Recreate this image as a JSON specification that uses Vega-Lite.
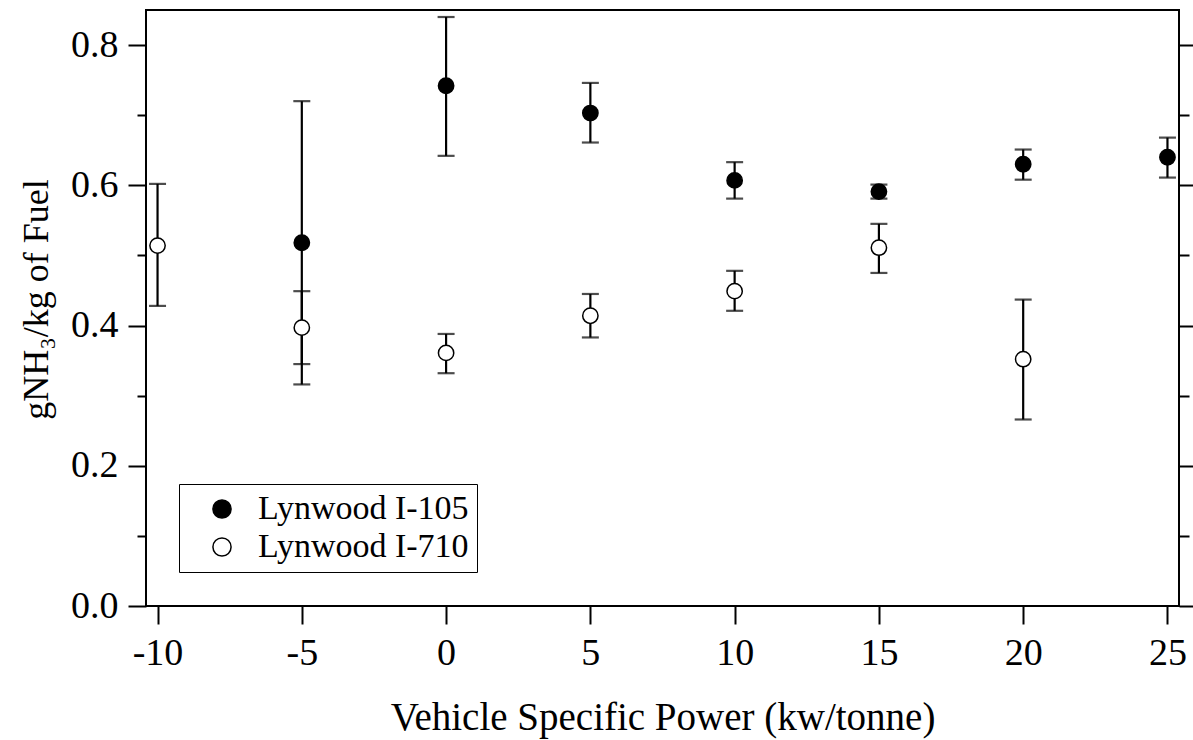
{
  "$schema": "https://vega.github.io/schema/vega-lite/v6.json",
  "width": 1033,
  "height": 596,
  "autosize": {"type": "none"},
  "padding": {"left": 146, "top": 10, "right": 14, "bottom": 134},
  "background": "white",
  "config": {
    "font": "Liberation Serif",
    "view": {"stroke": "black", "strokeWidth": 2},
    "axis": {"grid": false, "domain": false, "tickColor": "black", "tickWidth": 2, "labelColor": "black", "titleColor": "black", "labelFont": "Liberation Serif", "titleFont": "Liberation Serif", "titleFontWeight": "normal"}
  },
  "data": {
    "values": [
      {"vsp": -5, "series": "Lynwood I-105", "value": 0.518, "lo": 0.316, "hi": 0.720},
      {"vsp": 0, "series": "Lynwood I-105", "value": 0.742, "lo": 0.642, "hi": 0.840},
      {"vsp": 5, "series": "Lynwood I-105", "value": 0.703, "lo": 0.661, "hi": 0.746},
      {"vsp": 10, "series": "Lynwood I-105", "value": 0.607, "lo": 0.581, "hi": 0.633},
      {"vsp": 15, "series": "Lynwood I-105", "value": 0.591, "lo": 0.581, "hi": 0.601},
      {"vsp": 20, "series": "Lynwood I-105", "value": 0.630, "lo": 0.608, "hi": 0.651},
      {"vsp": 25, "series": "Lynwood I-105", "value": 0.640, "lo": 0.611, "hi": 0.668},
      {"vsp": -10, "series": "Lynwood I-710", "value": 0.514, "lo": 0.428, "hi": 0.602},
      {"vsp": -5, "series": "Lynwood I-710", "value": 0.397, "lo": 0.345, "hi": 0.449},
      {"vsp": 0, "series": "Lynwood I-710", "value": 0.361, "lo": 0.332, "hi": 0.388},
      {"vsp": 5, "series": "Lynwood I-710", "value": 0.414, "lo": 0.383, "hi": 0.445},
      {"vsp": 10, "series": "Lynwood I-710", "value": 0.449, "lo": 0.421, "hi": 0.478},
      {"vsp": 15, "series": "Lynwood I-710", "value": 0.511, "lo": 0.475, "hi": 0.545},
      {"vsp": 20, "series": "Lynwood I-710", "value": 0.352, "lo": 0.266, "hi": 0.437}
    ]
  },
  "encoding": {
    "x": {
      "field": "vsp", "type": "quantitative",
      "scale": {"domain": [-10.4, 25.4], "nice": false, "zero": false},
      "axis": {
        "values": [-10, -5, 0, 5, 10, 15, 20, 25],
        "labelExpr": "datum.value < 0 ? '-' + abs(datum.value) : '' + datum.value",
        "tickSize": 18, "labelFontSize": 38, "labelPadding": 10,
        "title": "Vehicle Specific Power (kw/tonne)", "titleFontSize": 39,
        "titleY": 123, "titleBaseline": "alphabetic"
      }
    }
  },
  "resolve": {"axis": {"y": "independent"}},
  "layer": [
    {
      "mark": {"type": "rule", "color": "black", "strokeWidth": 2.2},
      "encoding": {
        "y": {
          "field": "lo", "type": "quantitative",
          "scale": {"domain": [0, 0.85], "nice": false, "zero": false},
          "axis": {
            "orient": "left", "values": [0, 0.2, 0.4, 0.6, 0.8], "format": ".1f",
            "tickSize": 18, "labelFontSize": 38, "labelPadding": 10,
            "title": "gNH₃/kg of Fuel", "titleFontSize": 36,
            "titleX": -99, "titleY": 289, "titleAngle": -90, "titleAlign": "center", "titleBaseline": "alphabetic"
          }
        },
        "y2": {"field": "hi"}
      }
    },
    {
      "mark": {"type": "tick", "color": "black", "orient": "horizontal", "size": 17, "thickness": 2.2},
      "encoding": {
        "y": {
          "field": "lo", "type": "quantitative",
          "axis": {"orient": "left", "values": [0.1, 0.3, 0.5, 0.7], "labels": false, "tickSize": 9, "title": null}
        }
      }
    },
    {
      "mark": {"type": "tick", "color": "black", "orient": "horizontal", "size": 17, "thickness": 2.2},
      "encoding": {
        "y": {
          "field": "hi", "type": "quantitative",
          "axis": {"orient": "right", "values": [0, 0.2, 0.4, 0.6, 0.8], "labels": false, "tickSize": 16, "title": null}
        }
      }
    },
    {
      "mark": {"type": "point", "shape": "circle", "filled": true, "stroke": "black", "strokeWidth": 1.5, "size": 235, "opacity": 1},
      "encoding": {
        "y": {
          "field": "value", "type": "quantitative",
          "axis": {"orient": "right", "values": [0.1, 0.3, 0.5, 0.7], "labels": false, "tickSize": 10, "title": null}
        },
        "fill": {
          "field": "series", "type": "nominal",
          "scale": {"domain": ["Lynwood I-105", "Lynwood I-710"], "range": ["black", "white"]},
          "legend": {
            "title": null, "orient": "none", "legendX": 33, "legendY": 474,
            "strokeColor": "black", "fillColor": "white",
            "padding": 8, "symbolType": "circle", "symbolSize": 330,
            "symbolStrokeColor": "black", "symbolStrokeWidth": 1.5, "symbolOffset": 18,
            "labelFont": "Liberation Serif", "labelFontSize": 34, "labelColor": "black",
            "labelOffset": 19, "rowPadding": 4, "labelLimit": 400
          }
        }
      }
    }
  ]
}
